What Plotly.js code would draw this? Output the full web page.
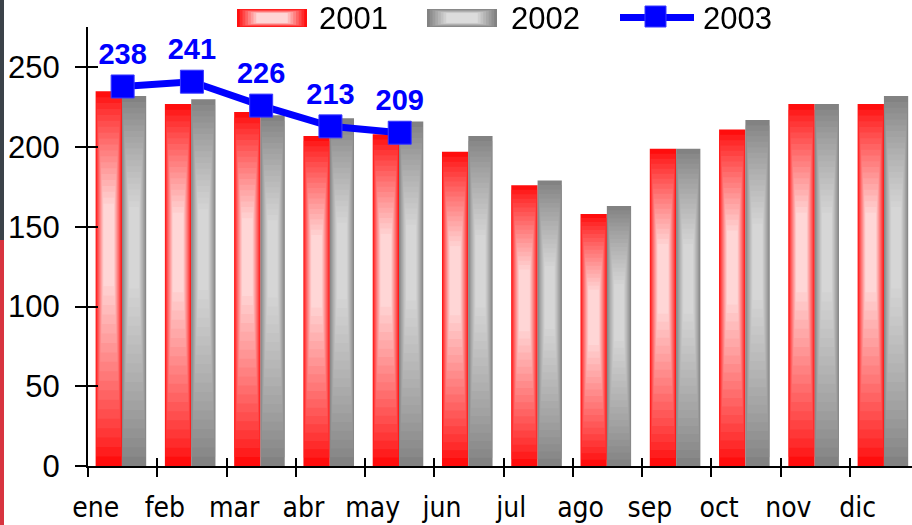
<!DOCTYPE html>
<html>
<head>
<meta charset="utf-8">
<script src="https://cdn.plot.ly/plotly-3.0.1.min.js"></script>
<style>html,body{margin:0;padding:0;background:#fff;}#chart{width:912px;height:525px;}</style>
</head>
<body>
<div id="chart"></div>
<script>
// ---- data ----
const months = ['ene','feb','mar','abr','may','jun','jul','ago','sep','oct','nov','dic'];
const seriesNames = ['2001','2002','2003'];
const values2001 = [235,227,222,207,208,197,176,158,199,211,227,227];
const values2002 = [232,230,220,218,216,207,179,163,199,217,227,232];
const values2003 = [238,241,226,213,209];
const yTicks = [0,50,100,150,200,250];

// ---- helpers ----
function hex2rgb(h){h=h.replace('#','');return [parseInt(h.substr(0,2),16),parseInt(h.substr(2,2),16),parseInt(h.substr(4,2),16)];}
function mix(a,b,t){const A=hex2rgb(a),B=hex2rgb(b);return 'rgb('+A.map((v,i)=>Math.round(v+(B[i]-v)*t)).join(',')+')';}
const L=88, T=27, PW=824, PH=439;
function pxX(px){return (px-L)/PW;}
function pxY(py){return (T+PH-py)/PH;}

const traces=[];
const N=20;
function gradientBars(vals, name, edge, center, off0, W){
  for(let k=0;k<N;k++){
    const t=k/(N-1);
    const wf=1-0.6*t, bf=0.48*t, tf=1-0.3*t;
    const w=W*wf;
    traces.push({
      type:'bar', x:months, y:vals.map(v=>v*(tf-bf)), base:vals.map(v=>v*bf),
      width:w, offset:off0+(W-w)/2, name:name, showlegend:false, hoverinfo:'skip',
      marker:{color:mix(edge,center,Math.pow(t,0.85)), line:{width:0}}
    });
  }
}
gradientBars(values2001, seriesNames[0], '#ff0d0d', '#ffd6d6', -0.39, 0.38);
gradientBars(values2002, seriesNames[1], '#828282', '#d6d6d6', -0.01, 0.35);

traces.push({
  type:'scatter', mode:'lines+markers+text', name:seriesNames[2],
  x:months.slice(0,values2003.length), y:values2003,
  text:values2003.map(String), textposition:'top center',
  textfont:{family:'Liberation Sans, Arial, sans-serif', size:29, color:'#0000ff', weight:'bold'},
  line:{color:'#0000ff', width:7},
  marker:{symbol:'square', size:23, color:'#0000ff', line:{color:'#3a3aff', width:1}},
  cliponaxis:false, showlegend:false, hoverinfo:'skip'
});
// invisible trace to carry the inner-tick overlay axes
traces.push({type:'scatter', mode:'markers', x:months, y:values2001, xaxis:'x2', yaxis:'y2',
  opacity:0, showlegend:false, hoverinfo:'skip'});

// ---- custom legend ----
const shapes=[], annotations=[];
// page strip at far left
shapes.push({type:'rect',xref:'paper',yref:'paper',x0:pxX(0),x1:pxX(4),y0:pxY(0),y1:pxY(240),fillcolor:'#3b4249',line:{width:0},layer:'above'});
shapes.push({type:'rect',xref:'paper',yref:'paper',x0:pxX(0),x1:pxX(4),y0:pxY(240),y1:pxY(525),fillcolor:'#d8343f',line:{width:0},layer:'above'});

function swatch(x0,x1,y0,y1,edge,center){
  const M=8;
  for(let k=0;k<M;k++){
    const t=k/(M-1);
    const cx=(x0+x1)/2, cy=(y0+y1)/2;
    const hw=(x1-x0)/2*(1-0.55*t), hh=(y1-y0)/2*(1-0.45*t);
    shapes.push({type:'rect',xref:'paper',yref:'paper',x0:pxX(cx-hw),x1:pxX(cx+hw),y0:pxY(cy+hh),y1:pxY(cy-hh),
      fillcolor:mix(edge,center,t),line:{width:0},layer:'above'});
  }
}
swatch(237,307,9,27,'#ff1010','#ffd6d6');
swatch(427,497,9,27,'#828282','#dcdcdc');
shapes.push({type:'line',xref:'paper',yref:'paper',x0:pxX(620),x1:pxX(694),y0:pxY(17.5),y1:pxY(17.5),line:{color:'#0000ff',width:7},layer:'above'});
shapes.push({type:'rect',xref:'paper',yref:'paper',x0:pxX(645),x1:pxX(666),y0:pxY(6),y1:pxY(27),fillcolor:'#0000ff',line:{color:'#3a3aff',width:1},layer:'above'});
const legX=[317,509,701];
seriesNames.forEach((n,i)=>annotations.push({xref:'paper',yref:'paper',x:pxX(legX[i]),y:pxY(18.5),xanchor:'left',yanchor:'middle',
  text:n,showarrow:false,font:{family:'Liberation Sans, Arial, sans-serif',size:31,color:'#000'}}));

const axisFont={family:'Liberation Sans, Arial, sans-serif', size:31, color:'#000'};
const layout={
  width:912, height:525,
  margin:{l:L, r:0, t:T, b:525-T-PH, pad:0},
  paper_bgcolor:'#fff', plot_bgcolor:'#fff',
  showlegend:false, barmode:'overlay',
  xaxis:{type:'category', categoryarray:months, range:[-0.5,11.395], tickson:'boundaries',
    ticks:'outside', ticklen:9, tickwidth:2, tickcolor:'#000',
    showline:true, linewidth:2, linecolor:'#000', showgrid:false, zeroline:false,
    ticklabelshift:-27, ticklabelstandoff:15,
    tickfont:{family:'DejaVu Sans Condensed, DejaVu Sans, sans-serif', size:28, color:'#000'}},
  yaxis:{range:[0,275.3], tickvals:yTicks, ticks:'outside', ticklen:11, tickwidth:2, tickcolor:'#000',
    showline:true, linewidth:2, linecolor:'#000', showgrid:false, zeroline:false,
    ticklabelstandoff:9, tickfont:axisFont},
  xaxis2:{type:'category', categoryarray:months, range:[-0.5,11.395], overlaying:'x', tickson:'boundaries',
    ticks:'inside', ticklen:8, tickwidth:2, tickcolor:'#000', showticklabels:false, showline:false, showgrid:false, zeroline:false},
  yaxis2:{range:[0,275.3], overlaying:'y', tickvals:yTicks, ticks:'inside', ticklen:10, tickwidth:2, tickcolor:'#000',
    showticklabels:false, showline:false, showgrid:false, zeroline:false},
  shapes:shapes, annotations:annotations
};
Plotly.newPlot('chart', traces, layout, {staticPlot:true, displayModeBar:false});
</script>
</body>
</html>
